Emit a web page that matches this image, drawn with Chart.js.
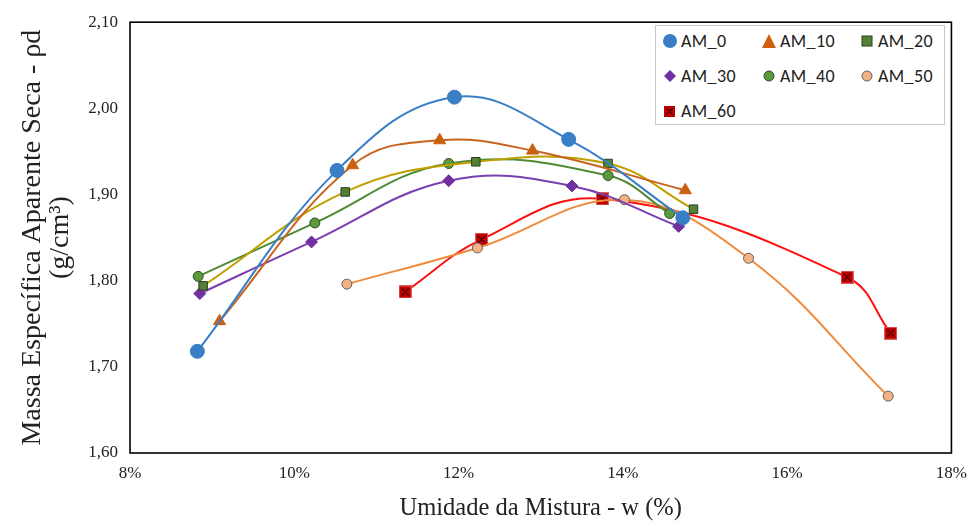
<!DOCTYPE html>
<html>
<head>
<meta charset="utf-8">
<script src="https://cdn.jsdelivr.net/npm/chart.js@4.4.1/dist/chart.umd.min.js"></script>
<style>
  html, body { margin: 0; padding: 0; background: #fff; }
  #wrap { position: relative; width: 977px; height: 527px; }
  #legend {
    position: absolute; left: 655px; top: 25px; width: 290px; height: 100px;
    border: 1px solid #c8c8c8; background: #fff; box-sizing: border-box;
    font-family: Carlito, "Liberation Sans", "Noto Sans", sans-serif; font-size: 18px; color: #222;
    letter-spacing: 0.4px;
  }
  .item { position: absolute; display: flex; align-items: center; gap: 3px; height: 22px; }
</style>
</head>
<body>
<div id="wrap">
  <canvas id="chart" width="977" height="527"></canvas>
  <div id="legend"></div>
</div>
<script>
  // Moisture (%) and dry density (g/cm3) per mix
  const am0x = [8.82, 10.52, 11.95, 13.34, 14.73];
  const am0y = [1.718, 1.928, 2.013, 1.964, 1.873];
  const am10x = [9.09, 10.71, 11.77, 12.90, 14.76];
  const am10y = [1.753, 1.934, 1.963, 1.951, 1.905];
  const am20x = [8.89, 10.62, 12.21, 13.82, 14.86];
  const am20y = [1.794, 1.903, 1.938, 1.936, 1.883];
  const am30x = [8.85, 10.21, 11.88, 13.38, 14.68];
  const am30y = [1.785, 1.845, 1.916, 1.910, 1.863];
  const am40x = [8.83, 10.25, 11.88, 13.82, 14.57];
  const am40y = [1.805, 1.867, 1.936, 1.922, 1.878];
  const am50x = [10.64, 12.23, 14.02, 15.53, 17.23];
  const am50y = [1.796, 1.838, 1.894, 1.826, 1.666];
  const am60x = [11.35, 12.28, 13.75, 16.73, 17.26];
  const am60y = [1.787, 1.848, 1.895, 1.804, 1.739];

  const xTicks = [8, 10, 12, 14, 16, 18];
  const yTicks = [1.60, 1.70, 1.80, 1.90, 2.00, 2.10];

  function pts(xs, ys) {
    return xs.map((x, i) => ({ x: x, y: ys[i] }));
  }

  // red square with black cross for AM_60
  const crossBox = document.createElement('canvas');
  crossBox.width = 13; crossBox.height = 13;
  (function () {
    const c = crossBox.getContext('2d');
    c.fillStyle = '#c00000';
    c.fillRect(0, 0, 13, 13);
    c.strokeStyle = '#e06060';
    c.strokeRect(0.5, 0.5, 12, 12);
    c.strokeStyle = '#000';
    c.lineWidth = 1;
    c.beginPath();
    c.moveTo(3, 3); c.lineTo(10, 10);
    c.moveTo(10, 3); c.lineTo(3, 10);
    c.stroke();
  })();

  const series = [
    { label: 'AM_0', x: am0x, y: am0y, line: '#3a7ec6', fill: '#3a7ec6', edge: '#3a7ec6', style: 'circle', r: 7 },
    { label: 'AM_10', x: am10x, y: am10y, line: '#c8641e', fill: '#cc6010', edge: '#cc6010', style: 'triangle', r: 7 },
    { label: 'AM_20', x: am20x, y: am20y, line: '#c0a000', fill: '#548235', edge: '#2a3a20', style: 'rect', r: 6 },
    { label: 'AM_30', x: am30x, y: am30y, line: '#7a3fb0', fill: '#7030a0', edge: '#7030a0', style: 'rectRot', r: 6 },
    { label: 'AM_40', x: am40x, y: am40y, line: '#4f8a35', fill: '#5a9a3a', edge: '#2f4a25', style: 'circle', r: 5 },
    { label: 'AM_50', x: am50x, y: am50y, line: '#f08a3c', fill: '#f4b183', edge: '#606060', style: 'circle', r: 5 },
    { label: 'AM_60', x: am60x, y: am60y, line: '#ff1010', fill: '#c00000', edge: '#c00000', style: crossBox, r: 6 }
  ];

  const datasets = series.map(s => ({
    label: s.label,
    data: pts(s.x, s.y),
    showLine: true,
    tension: 0.4,
    borderColor: s.line,
    borderWidth: 2,
    pointStyle: s.style,
    pointRadius: s.r,
    pointBackgroundColor: s.fill,
    pointBorderColor: s.edge,
    pointBorderWidth: 1
  }));

  const frame = {
    id: 'frame',
    afterDraw(chart) {
      const a = chart.chartArea;
      const c = chart.ctx;
      c.save();
      c.strokeStyle = '#000';
      c.lineWidth = 1.6;
      c.strokeRect(a.left, a.top, a.right - a.left, a.bottom - a.top);
      c.restore();
    }
  };

  const serif = 'Liberation Serif, "Times New Roman", serif';

  new Chart(document.getElementById('chart'), {
    type: 'scatter',
    data: { datasets: datasets },
    options: {
      responsive: false,
      animation: false,
      layout: { padding: { top: 17, right: 25, left: 0, bottom: 0 } },
      plugins: { legend: { display: false }, tooltip: { enabled: false } },
      scales: {
        x: {
          min: 8, max: 18,
          afterBuildTicks: s => { s.ticks = xTicks.map(v => ({ value: v })); },
          afterFit: s => { s.height = 74; },
          grid: { display: false, drawTicks: false },
          border: { display: false },
          ticks: {
            padding: 10,
            color: '#222',
            font: { family: serif, size: 17 },
            callback: v => v + '%'
          },
          title: {
            display: true, text: 'Umidade da Mistura - w (%)',
            color: '#222', font: { family: serif, size: 24.5 }, padding: { top: 10 }
          }
        },
        y: {
          min: 1.6, max: 2.1,
          afterBuildTicks: s => { s.ticks = yTicks.map(v => ({ value: v })); },
          afterFit: s => { s.width = 130; },
          grid: { display: false, drawTicks: false },
          border: { display: false },
          ticks: {
            padding: 12,
            color: '#222',
            font: { family: serif, size: 17 },
            callback: v => v.toFixed(2).replace('.', ',')
          },
          title: {
            display: true,
            text: ['Massa Específica Aparente Seca - ρd', '(g/cm³)'],
            color: '#222', font: { family: serif, size: 28, lineHeight: 1.0 }, padding: { bottom: 0, top: 19 }
          }
        }
      }
    },
    plugins: [frame]
  });

  // html legend inside the plot
  function icon(s) {
    const f = s.fill, e = s.edge;
    if (s.label === 'AM_0') return `<svg width="16" height="16"><circle cx="8" cy="8" r="7" fill="${f}"/></svg>`;
    if (s.label === 'AM_10') return `<svg width="16" height="16"><polygon points="8,1 15,15 1,15" fill="${f}"/></svg>`;
    if (s.label === 'AM_20') return `<svg width="16" height="16"><rect x="3" y="3" width="10" height="10" fill="${f}" stroke="${e}"/></svg>`;
    if (s.label === 'AM_30') return `<svg width="16" height="16"><polygon points="8,2 14,8 8,14 2,8" fill="${f}"/></svg>`;
    if (s.label === 'AM_60') return `<svg width="16" height="16"><rect x="2" y="3" width="11" height="11" fill="${f}"/><path d="M4 5 L11 12 M11 5 L4 12" stroke="#000"/></svg>`;
    return `<svg width="16" height="16"><circle cx="8" cy="8" r="5" fill="${f}" stroke="${e}"/></svg>`;
  }
  const cols = [6, 105, 203];
  const rows = [4, 39, 74];
  const lg = document.getElementById('legend');
  series.forEach((s, i) => {
    const d = document.createElement('div');
    d.className = 'item';
    d.style.left = cols[i % 3] + 'px';
    d.style.top = rows[Math.floor(i / 3)] + 'px';
    d.innerHTML = icon(s) + '<span>' + s.label + '</span>';
    lg.appendChild(d);
  });
</script>
</body>
</html>
